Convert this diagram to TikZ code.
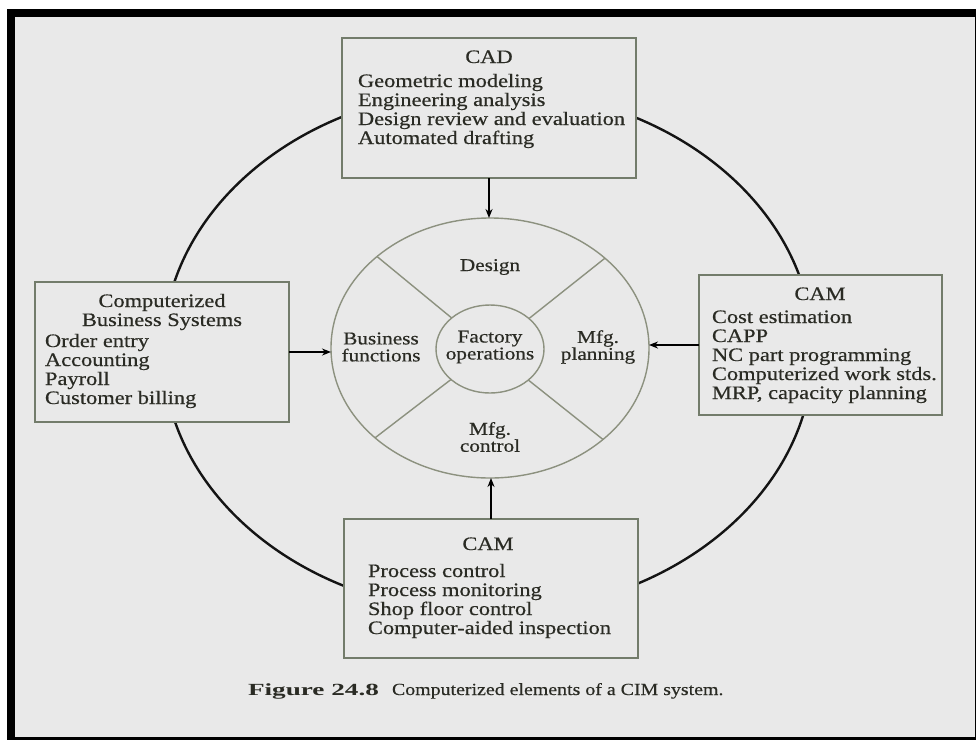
\documentclass[tikz,border=0pt]{standalone}
\usepackage{fontspec}
\setmainfont{Liberation Serif}[FakeStretch=1.18, FakeBold=0.5]
\newfontfamily\figlabelfont{Liberation Serif Bold}[FakeStretch=1.6]
\newfontfamily\figtextfont{Liberation Serif}[FakeStretch=1.17, FakeBold=0.4]
\usetikzlibrary{shapes.geometric,arrows.meta,calc}
\definecolor{paper}{HTML}{E9E9E9}
\definecolor{ink}{HTML}{2A2B24}
\definecolor{frameline}{HTML}{737C6B}
\definecolor{hubline}{HTML}{8C917F}
\begin{document}
\begin{tikzpicture}[x=1pt,y=-1pt,
  every node/.style={inner sep=0pt, outer sep=0pt, text=ink},
  txt/.style={font=\fontsize{19}{19}\selectfont},
  title/.style={txt, anchor=base},
  item/.style={txt, anchor=base west},
  panel/.style={rectangle, draw=frameline, line width=1.6pt, fill=paper},
  region/.style={align=center, font=\fontsize{18}{17}\selectfont},
  ring/.style={draw=black!92, line width=2.4pt},
  divider/.style={draw=hubline, line width=1.4pt},
  feed/.style={draw=black, line width=2pt, -{Stealth[length=9pt,width=7pt]}}
]
\useasboundingbox (0,0) rectangle (976,740);
% page, black frame and grey sheet
\fill[white] (0,0) rectangle (976,740);
\fill[black] (7,9) rectangle (976,740);
\fill[paper] (15,17) rectangle (975,737);

% ring linking the four computerized systems
\draw[ring] (488,351) ellipse [x radius=325, y radius=262];

% the four system panels
\node[panel, minimum width=294pt, minimum height=140pt] (cad) at (489,108) {};
\node[panel, minimum width=254pt, minimum height=140pt] (biz) at (162,352) {};
\node[panel, minimum width=243pt, minimum height=140pt] (plan) at (820.5,345) {};
\node[panel, minimum width=294pt, minimum height=139pt] (ctl) at (491,588.5) {};

\node[title] (cadT) at (489,63) {CAD};
\foreach \t [count=\i from 0] in {Geometric modeling, Engineering analysis,
    Design review and evaluation, Automated drafting}
  \node[item] (cad-\i) at (358,87+19*\i) {\t};

\node[title] (bizT1) at (162,307) {Computerized};
\node[title] (bizT2) at (162,326) {Business Systems};
\foreach \t [count=\i from 0] in {Order entry, Accounting, Payroll, Customer billing}
  \node[item] (biz-\i) at (45,347+19*\i) {\t};

\node[title] (planT) at (820,300) {CAM};
\foreach \t [count=\i from 0] in {Cost estimation, CAPP, NC part programming,
    Computerized work stds., {MRP, capacity planning}}
  \node[item] (plan-\i) at (712,323+19*\i) {\t};

\node[title] (ctlT) at (488,550) {CAM};
\foreach \t [count=\i from 0] in {Process control, Process monitoring,
    Shop floor control, Computer-aided inspection}
  \node[item] (ctl-\i) at (368,577+19*\i) {\t};

% factory hub
\node[ellipse, draw=hubline, line width=1.4pt, fill=paper,
      minimum width=318pt, minimum height=260pt] (hub) at (490,348) {};
\node[ellipse, draw=hubline, line width=1.4pt,
      minimum width=108pt, minimum height=88pt] (core) at (490,349) {};
\foreach \a in {38.5,141.5,218.5,321.5}
  \draw[divider] (core.\a) -- (hub.\a);

\node[region] (design) at (490,267) {Design};
\node[region] (business) at (381,347) {Business\\functions};
\node[region] (factory) at (490,347) {Factory\\operations};
\node[region] (mfgplan) at (598,347) {Mfg.\\planning};
\node[region] (mfgctl) at (490,437) {Mfg.\\control};

% information flows into the hub
\draw[feed] (cad.south) -- (cad.south |- hub.north);
\draw[feed] (biz.east) -- (biz.east -| hub.west);
\draw[feed] (plan.west) -- (plan.west -| hub.east);
\draw[feed] (ctl.north) -- (ctl.north |- hub.south);

% caption
\node[anchor=base west, font=\figlabelfont\fontsize{17}{17}\selectfont]
  (figlabel) at (248,695) {Figure 24.8};
\node[anchor=base west, font=\figtextfont\fontsize{17}{17}\selectfont]
  (figtext) at (392,695) {Computerized elements of a CIM system.};
\end{tikzpicture}
\end{document}
